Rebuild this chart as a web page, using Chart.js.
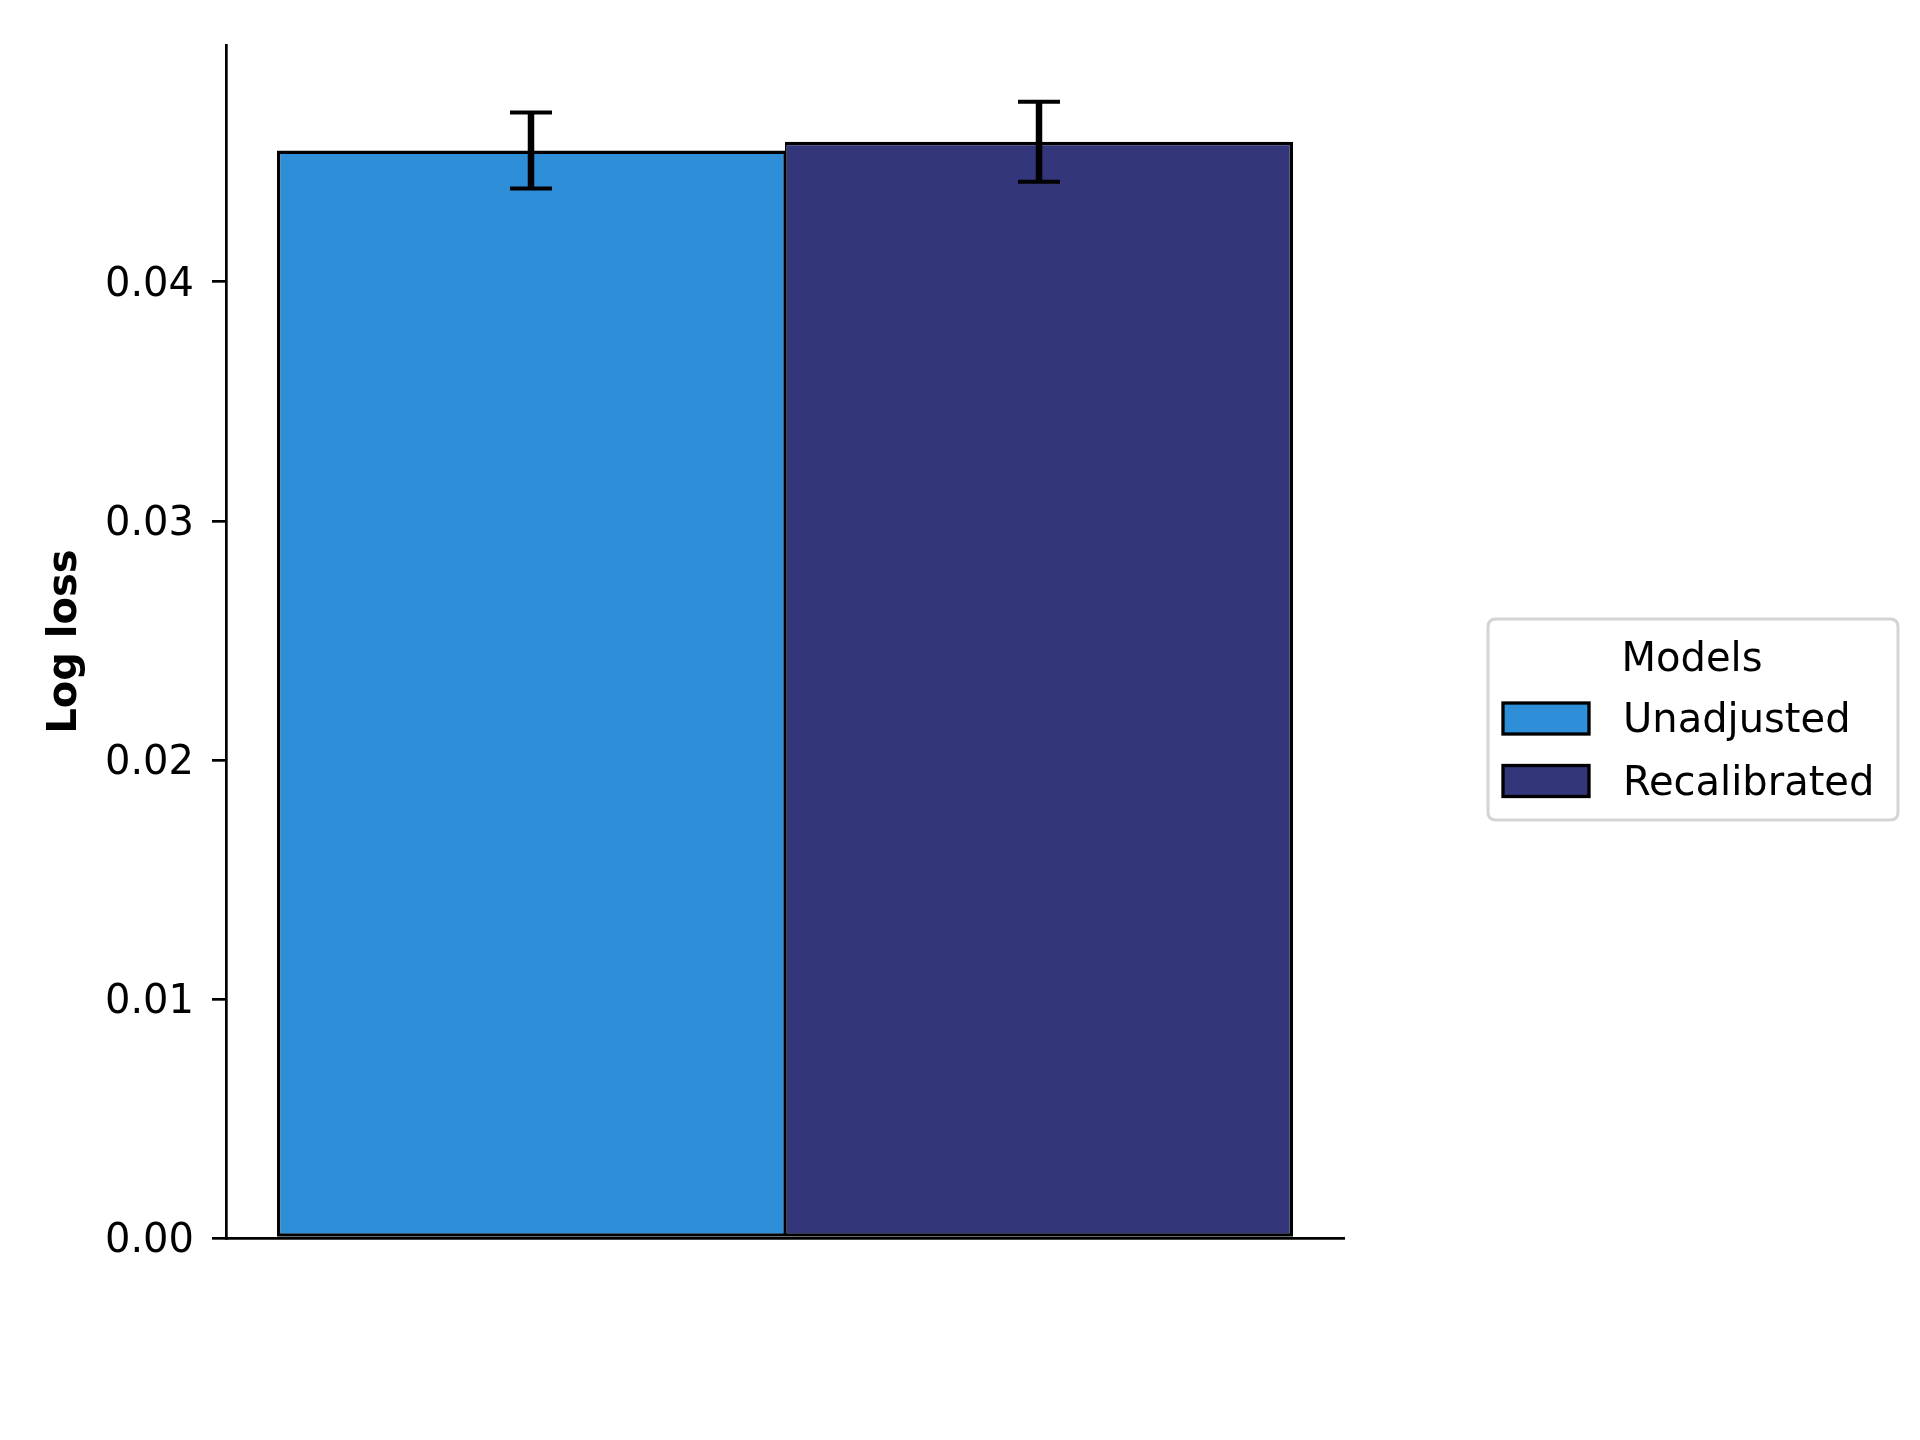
<!DOCTYPE html>
<html>
<head>
<meta charset="utf-8">
<script src="https://cdn.jsdelivr.net/npm/chart.js@4/dist/chart.umd.min.js"></script>
<style>
  html, body { margin: 0; padding: 0; background: #ffffff; }
  #wrap { width: 1920px; height: 1440px; }
</style>
</head>
<body>
<div id="wrap"><canvas id="c" width="1920" height="1440"></canvas></div>
<script>
// ---- data ----
const categories = [''];
const modelNames = ['Unadjusted', 'Recalibrated'];
const logLoss = [0.04549, 0.04586];
const logLossErr = [0.00159, 0.00167];
const modelColors = ['#2E8FD8', '#33367A'];
const legendTitle = 'Models';
const yAxisLabel = 'Log loss';

const FONT = 'DejaVu Sans';

const datasets = modelNames.map((name, i) => ({
  label: name,
  data: [logLoss[i]],
  backgroundColor: modelColors[i],
  borderColor: '#000000',
  borderWidth: i === 0
    ? { top: 3.4, left: 3.4, bottom: 3.4, right: 1.7 }
    : { top: 3.4, left: 1.7, bottom: 3.4, right: 3.4 },
  borderSkipped: false,
  categoryPercentage: 1016 / 1118,
  barPercentage: 1.0
}));

const yMax = Math.max(...logLoss.map((v, i) => v + logLossErr[i])) * 1.05;

const errorBarPlugin = {
  id: 'errorBars',
  afterDatasetsDraw(chart) {
    const ctx = chart.ctx;
    const ys = chart.scales.y;
    ctx.save();
    ctx.strokeStyle = '#000000';
    chart.data.datasets.forEach((ds, i) => {
      const meta = chart.getDatasetMeta(i);
      meta.data.forEach((bar, j) => {
        const v = ds.data[j];
        const e = logLossErr[i];
        const yTop = ys.getPixelForValue(v + e);
        const yBot = ys.getPixelForValue(v - e);
        const x = bar.x;
        ctx.lineWidth = 6.5;
        ctx.beginPath();
        ctx.moveTo(x, yTop);
        ctx.lineTo(x, yBot);
        ctx.stroke();
        ctx.lineWidth = 4;
        ctx.beginPath();
        ctx.moveTo(x - 21, yTop);
        ctx.lineTo(x + 21, yTop);
        ctx.moveTo(x - 21, yBot);
        ctx.lineTo(x + 21, yBot);
        ctx.stroke();
      });
    });
    ctx.restore();
  }
};

function roundRect(ctx, x, y, w, h, r) {
  ctx.beginPath();
  ctx.moveTo(x + r, y);
  ctx.lineTo(x + w - r, y);
  ctx.quadraticCurveTo(x + w, y, x + w, y + r);
  ctx.lineTo(x + w, y + h - r);
  ctx.quadraticCurveTo(x + w, y + h, x + w - r, y + h);
  ctx.lineTo(x + r, y + h);
  ctx.quadraticCurveTo(x, y + h, x, y + h - r);
  ctx.lineTo(x, y + r);
  ctx.quadraticCurveTo(x, y, x + r, y);
  ctx.closePath();
}

const legendPlugin = {
  id: 'mplLegend',
  afterDraw(chart) {
    const ctx = chart.ctx;
    const bx = 1488, by = 619, bw = 410, bh = 201;
    ctx.save();
    roundRect(ctx, bx, by, bw, bh, 8);
    ctx.fillStyle = 'rgba(255,255,255,0.8)';
    ctx.fill();
    ctx.strokeStyle = '#d4d4d4';
    ctx.lineWidth = 3;
    ctx.stroke();

    ctx.font = '40px "' + FONT + '"';
    ctx.fillStyle = '#000000';
    ctx.textBaseline = 'alphabetic';
    ctx.textAlign = 'center';
    ctx.fillText(legendTitle, bx + bw / 2 - 1, by + 52);

    ctx.textAlign = 'left';
    chart.data.datasets.forEach((ds, i) => {
      const sy = by + 84 + i * 62.5;
      ctx.fillStyle = ds.backgroundColor;
      ctx.fillRect(bx + 15, sy, 86, 31);
      ctx.strokeStyle = '#000000';
      ctx.lineWidth = 3.3;
      ctx.strokeRect(bx + 15, sy, 86, 31);
      ctx.fillStyle = '#000000';
      ctx.fillText(ds.label, bx + 135, sy + 29);
    });
    ctx.restore();
  }
};

new Chart(document.getElementById('c'), {
  type: 'bar',
  data: { labels: categories, datasets: datasets },
  options: {
    responsive: false,
    animation: false,
    devicePixelRatio: 1,
    layout: { padding: { top: 45, right: 576, bottom: 0, left: 0 } },
    plugins: {
      legend: { display: false },
      tooltip: { enabled: false }
    },
    scales: {
      x: {
        grid: { display: false },
        ticks: { display: false },
        border: { display: true, color: '#000000', width: 2.7 },
        afterFit(scale) { scale.height = 202; }
      },
      y: {
        min: 0,
        max: yMax,
        grid: {
          display: true,
          drawOnChartArea: false,
          drawTicks: true,
          tickLength: 14,
          color: '#000000',
          lineWidth: 2.7
        },
        border: { display: true, color: '#000000', width: 2.7 },
        ticks: {
          stepSize: 0.01,
          includeBounds: false,
          padding: 18,
          labelOffset: 4,
          color: '#000000',
          font: { family: FONT, size: 40 },
          callback: (v) => v.toFixed(2)
        },
        title: {
          display: true,
          text: yAxisLabel,
          color: '#000000',
          font: { family: FONT, size: 40, weight: 'bold' },
          padding: { top: 42, bottom: 0 }
        },
        afterFit(scale) { scale.width = 226; }
      }
    }
  },
  plugins: [errorBarPlugin, legendPlugin]
});
</script>
</body>
</html>
